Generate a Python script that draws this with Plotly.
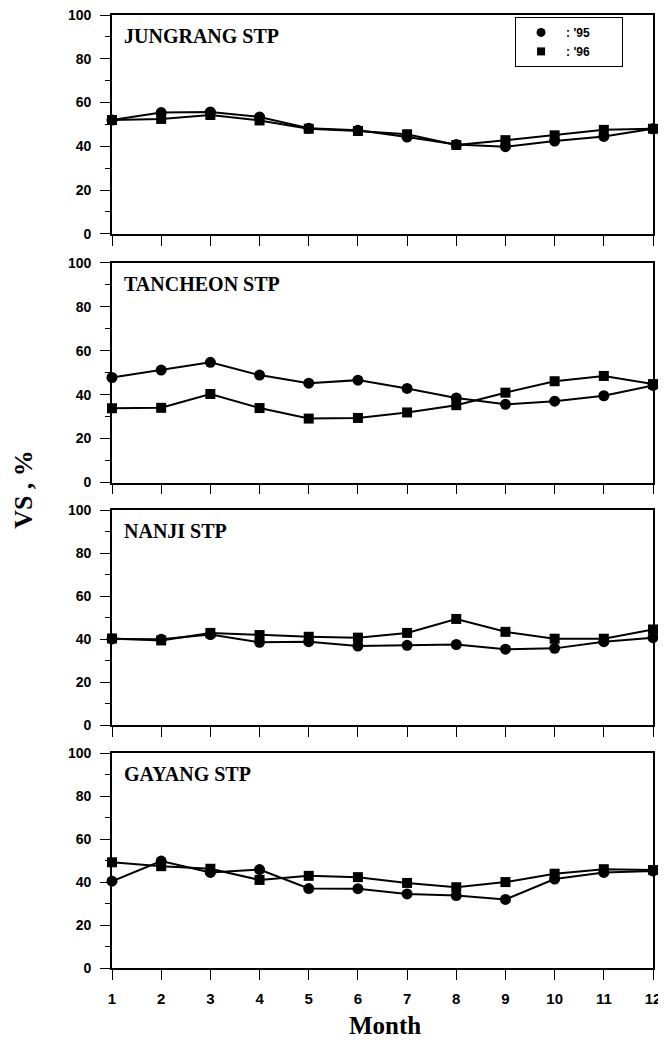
import plotly.graph_objects as go

months = list(range(1, 13))
stations = ["JUNGRANG STP", "TANCHEON STP", "NANJI STP", "GAYANG STP"]

jungrang_95 = [52, 55.4, 55.7, 53.4, 48.2, 47.3, 44.2, 40.8, 39.8, 42.4, 44.5, 48]
jungrang_96 = [52, 52.5, 54.3, 51.8, 48.0, 47.0, 45.5, 40.6, 42.8, 45.0, 47.5, 48]
tancheon_95 = [47.8, 51.2, 54.7, 48.9, 45.2, 46.6, 42.8, 38.5, 35.6, 37.0, 39.5, 44.2]
tancheon_96 = [33.8, 34.0, 40.3, 33.9, 29.1, 29.4, 31.9, 35.2, 40.9, 46.1, 48.5, 44.8]
nanji_95 = [40.2, 40.0, 42.2, 38.6, 38.9, 36.9, 37.2, 37.6, 35.4, 35.8, 38.9, 40.8]
nanji_96 = [40.4, 39.5, 43.0, 42.0, 41.2, 40.8, 43.0, 49.5, 43.5, 40.3, 40.3, 44.6]
gayang_95 = [40.4, 49.8, 44.5, 45.8, 37.0, 36.9, 34.5, 33.7, 31.9, 41.4, 44.5, 45.2]
gayang_96 = [49.2, 47.4, 46.2, 41.0, 42.9, 42.3, 39.6, 37.6, 40.0, 43.9, 46.0, 45.6]

series_95 = [jungrang_95, tancheon_95, nanji_95, gayang_95]
series_96 = [jungrang_96, tancheon_96, nanji_96, gayang_96]

y_ticks = [0, 20, 40, 60, 80, 100]
y_minor = [10, 30, 50, 70, 90]

domains = [[0.7704, 1.0], [0.5094, 0.740], [0.2547, 0.4801], [0.0, 0.2254]]

fig = go.Figure()
yfont = dict(family="Liberation Sans", size=14, color="black")
xfont = dict(family="Liberation Sans", size=15, color="black")

for i in range(4):
    xa = "x" if i == 0 else f"x{i+1}"
    ya = "y" if i == 0 else f"y{i+1}"
    fig.add_trace(go.Scatter(x=months, y=series_95[i], mode="lines+markers",
                             line=dict(color="black", width=2),
                             marker=dict(symbol="circle", size=11, color="black"),
                             xaxis=xa, yaxis=ya, showlegend=False, cliponaxis=False))
    fig.add_trace(go.Scatter(x=months, y=series_96[i], mode="lines+markers",
                             line=dict(color="black", width=2),
                             marker=dict(symbol="square", size=10, color="black"),
                             xaxis=xa, yaxis=ya, showlegend=False, cliponaxis=False))
    xkey = "xaxis" if i == 0 else f"xaxis{i+1}"
    ykey = "yaxis" if i == 0 else f"yaxis{i+1}"
    fig.layout[xkey] = dict(
        domain=[0, 1], anchor=ya, range=[1, 12], tickmode="array", tickvals=months,
        ticktext=[f"<b>{m}</b>" for m in months], showticklabels=(i == 3),
        ticks="outside", ticklen=10, tickwidth=1.3, tickcolor="black",
        ticklabelstandoff=6, automargin=False, ticklabeloverflow="allow",
        showline=True, linecolor="black", linewidth=1.8, mirror=True,
        showgrid=False, zeroline=False, tickfont=xfont,
    )
    fig.layout[ykey] = dict(
        domain=domains[i], anchor=xa, range=[0, 100], tickmode="array", tickvals=y_ticks,
        ticktext=[f"<b>{v}</b>" for v in y_ticks],
        ticks="outside", ticklen=10, tickwidth=1.3, tickcolor="black",
        ticklabelstandoff=6, automargin=False, ticklabeloverflow="allow",
        minor=dict(tickvals=y_minor, ticks="outside", ticklen=5, tickcolor="black", tickwidth=1.2),
        showline=True, linecolor="black", linewidth=1.8, mirror=True,
        showgrid=False, zeroline=False, tickfont=yfont,
    )
    fig.add_annotation(text=f"<b>{stations[i]}</b>", xref=f"{xa} domain", yref=f"{ya} domain",
                       x=0.018, y=0.904, xanchor="left", yanchor="middle", showarrow=False,
                       font=dict(family="Liberation Serif", size=20, color="black"))

# legend entries
nb = "\u00a0"
fig.add_trace(go.Scatter(x=[None], y=[None], mode="markers", name="<b>:" + nb + "'95</b>" + nb * 8,
                         marker=dict(symbol="circle", size=9, color="black")))
fig.add_trace(go.Scatter(x=[None], y=[None], mode="markers", name="<b>:" + nb + "'96</b>" + nb * 8,
                         marker=dict(symbol="square", size=8, color="black")))

fig.update_layout(
    width=658, height=1033,
    margin=dict(l=104, r=13, t=7, b=73, autoexpand=False),
    paper_bgcolor="white", plot_bgcolor="white",
    showlegend=True,
    legend=dict(x=0.745, y=0.998, xanchor="left", yanchor="top", xref="paper", yref="paper",
                bgcolor="white", bordercolor="black", borderwidth=1,
                itemwidth=40, tracegroupgap=0,
                font=dict(family="Liberation Sans", size=12, color="black")),
)

fig.add_annotation(text="<b>VS , %</b>", xref="paper", yref="paper", x=-0.164, y=0.502,
                   textangle=-90, showarrow=False, xanchor="center", yanchor="middle",
                   font=dict(family="Liberation Serif", size=26, color="black"))
fig.add_annotation(text="<b>Month</b>", xref="paper", yref="paper", x=0.505, y=-0.0608,
                   showarrow=False, xanchor="center", yanchor="middle",
                   font=dict(family="Liberation Serif", size=25, color="black"))

fig.write_html("out.html")
